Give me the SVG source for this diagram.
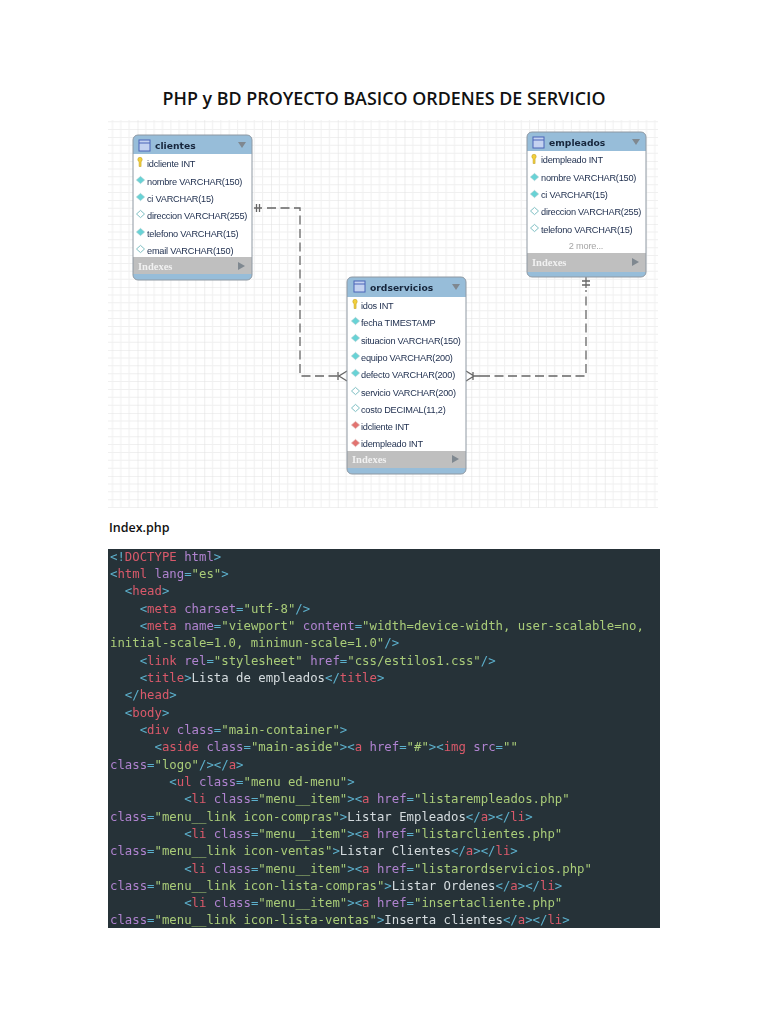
<svg xmlns="http://www.w3.org/2000/svg" width="768" height="1024" viewBox="0 0 768 1024">
<style>
.code{font-family:"DejaVu Sans Mono",monospace;font-size:12.32px;fill:#d5dcdf;white-space:pre}
.b{fill:#5cb0cc}.r{fill:#d9596a}.p{fill:#b083d0}.g{fill:#a9cc78}
.t{font-family:"Liberation Sans",sans-serif;font-size:9.2px;letter-spacing:-.22px;fill:#1c2c4c}
.h{font-family:"DejaVu Sans",sans-serif;font-size:9.2px;font-weight:bold;fill:#17263c}
.ix{font-family:"Liberation Serif",serif;font-size:10.5px;font-weight:bold;fill:#f1f1f1}
.body{fill:#fff}
.line{fill:none;stroke:#8e98a2;stroke-width:1}
.head{fill:#97bdd9}
.band{fill:#bfbfbf}
.arrow{fill:#7f8890}
.k{fill:#f2cf3c;stroke:#b8981c;stroke-width:.5}
.d{fill:#68d3d6;stroke:#8fc6c9;stroke-width:.7}
.o{fill:#fff;stroke:#7fc0c4;stroke-width:1}
.f{fill:#e2736f;stroke:#d9a3a0;stroke-width:.7}
.ti{fill:#c4d2f0;stroke:#4a64b8;stroke-width:1}
.c{fill:none;stroke:#666;stroke-width:1.3}
.dash{stroke-dasharray:9 4.5}
</style>
<defs>
<pattern id="gr" x="137.5" y="98" width="66.75" height="63" patternUnits="userSpaceOnUse">
<path d="M8.34 0V63M16.69 0V63M25.03 0V63M33.38 0V63M41.72 0V63M50.06 0V63M58.41 0V63M0 7.88H66.75M0 15.75H66.75M0 23.63H66.75M0 31.5H66.75M0 39.38H66.75M0 47.25H66.75M0 55.13H66.75" stroke="#f0f0f0" stroke-width="1" fill="none"/>
<path d="M0 0V63M0 0H66.75" stroke="#e3e3e3" stroke-width="1.2" fill="none"/>
</pattern>
<filter id="soft" x="-5%" y="-5%" width="110%" height="110%"><feGaussianBlur stdDeviation="0.35"/></filter>
<filter id="soft2" x="0" y="0" width="100%" height="100%"><feGaussianBlur stdDeviation="0.2"/></filter>
<path id="key" d="M-2.2-3.5a2.2 2.2 0 0 1 4.4 0c0 1.200-.6 1.800-1.100 2.300V3.500H-.9V-1.200C-1.600-1.700-2.200-2.300-2.200-3.500z"/>
<path id="dm" d="M0-3.600L4 0 0 3.600-4 0z"/>
<g id="tbl"><rect x="0" y="0" width="11" height="11" class="ti"/><path d="M0 3H11" stroke="#4a64b8"/></g>
</defs>

<rect width="768" height="1024" fill="#fff"/>
<text x="384" y="105" text-anchor="middle" textLength="443" lengthAdjust="spacingAndGlyphs" style="font-family:'Open Sans',sans-serif;font-size:17.500px;font-weight:600;fill:#111">PHP y BD PROYECTO BASICO ORDENES DE SERVICIO</text>

<rect x="108" y="120" width="550" height="388" fill="url(#gr)"/>

<g id="connectors" filter="url(#soft)">
<path class="c dash" d="M267 208H300V376H338"/>
<path class="c" d="M254 208H262M256.500 204V212M259.500 204V212M338 372V380M347 371L339 376L347 381"/>
<path class="c dash" d="M481 376H586V290"/>
<path class="c" d="M586 277V288M582 281H590M582 285H590M473 372V380M466 371L474 376L466 381M474 376H481"/>
</g>

<g id="clientes" filter="url(#soft)">
<rect class="head" x="133" y="135" width="119" height="145" rx="5"/>
<rect class="body" x="133" y="154" width="119" height="103"/>
<rect class="band" x="133" y="257" width="119" height="17"/>
<rect class="line" x="133" y="135" width="119" height="145" rx="5"/>
<use href="#tbl" x="139" y="140"/>
<text class="h" x="155" y="149">clientes</text>
<path class="arrow" d="M238 142H246L242 148z"/>
<use href="#key" class="k" x="140" y="163"/><text class="t" x="147" y="167">idcliente INT</text>
<use href="#dm" class="d" x="140.500" y="180"/><text class="t" x="147" y="185">nombre VARCHAR(150)</text>
<use href="#dm" class="d" x="140.500" y="197"/><text class="t" x="147" y="202">ci VARCHAR(15)</text>
<use href="#dm" class="o" x="140.500" y="214"/><text class="t" x="147" y="219">direccion VARCHAR(255)</text>
<use href="#dm" class="d" x="140.500" y="232"/><text class="t" x="147" y="237">telefono VARCHAR(15)</text>
<use href="#dm" class="o" x="140.500" y="249"/><text class="t" x="147" y="254">email VARCHAR(150)</text>
<text class="ix" x="138" y="270">Indexes</text>
<path class="arrow" d="M238 262L245 266L238 270z"/>
</g>

<g id="empleados" filter="url(#soft)">
<rect class="head" x="527" y="132" width="119" height="145" rx="5"/>
<rect class="body" x="527" y="151" width="119" height="102"/>
<rect class="band" x="527" y="253" width="119" height="19"/>
<rect class="line" x="527" y="132" width="119" height="145" rx="5"/>
<use href="#tbl" x="533" y="137"/>
<text class="h" x="549" y="146">empleados</text>
<path class="arrow" d="M632 139H640L636 145z"/>
<use href="#key" class="k" x="534" y="160"/><text class="t" x="541" y="163">idempleado INT</text>
<use href="#dm" class="d" x="534.500" y="177"/><text class="t" x="541" y="181">nombre VARCHAR(150)</text>
<use href="#dm" class="d" x="534.500" y="194"/><text class="t" x="541" y="198">ci VARCHAR(15)</text>
<use href="#dm" class="o" x="534.500" y="211"/><text class="t" x="541" y="215">direccion VARCHAR(255)</text>
<use href="#dm" class="o" x="534.500" y="228"/><text class="t" x="541" y="233">telefono VARCHAR(15)</text>
<text class="t" x="586" y="249" text-anchor="middle" style="fill:#a5a5a5">2 more...</text>
<text class="ix" x="532" y="266">Indexes</text>
<path class="arrow" d="M632 258L639 262L632 266z"/>
</g>

<g id="ordservicios" filter="url(#soft)">
<rect class="head" x="347" y="277" width="119" height="197" rx="5"/>
<rect class="body" x="347" y="297" width="119" height="154"/>
<rect class="band" x="347" y="451" width="119" height="17"/>
<rect class="line" x="347" y="277" width="119" height="197" rx="5"/>
<use href="#tbl" x="354" y="281"/>
<text class="h" x="370" y="291">ordservicios</text>
<path class="arrow" d="M452 284H460L456 290z"/>
<use href="#key" class="k" x="355" y="305"/><text class="t" x="361" y="309">idos INT</text>
<use href="#dm" class="d" x="355.500" y="321"/><text class="t" x="361" y="326">fecha TIMESTAMP</text>
<use href="#dm" class="d" x="355.500" y="338"/><text class="t" x="361" y="344">situacion VARCHAR(150)</text>
<use href="#dm" class="d" x="355.500" y="356"/><text class="t" x="361" y="361">equipo VARCHAR(200)</text>
<use href="#dm" class="d" x="355.500" y="373"/><text class="t" x="361" y="378">defecto VARCHAR(200)</text>
<use href="#dm" class="o" x="355.500" y="391"/><text class="t" x="361" y="396">servicio VARCHAR(200)</text>
<use href="#dm" class="o" x="355.500" y="408"/><text class="t" x="361" y="413">costo DECIMAL(11,2)</text>
<use href="#dm" class="f" x="355.500" y="425"/><text class="t" x="361" y="430">idcliente INT</text>
<use href="#dm" class="f" x="355.500" y="443"/><text class="t" x="361" y="447">idempleado INT</text>
<text class="ix" x="352" y="463">Indexes</text>
<path class="arrow" d="M452 455L459 459L452 463z"/>
</g>

<text x="109" y="532" style="font-family:'Open Sans',sans-serif;font-size:12.500px;font-weight:600;fill:#111">Index.php</text>

<rect x="108" y="549" width="552" height="379" fill="#263238"/>
<g class="code" filter="url(#soft2)">
<text class="code" x="110" y="561"><tspan class="b">&lt;!</tspan><tspan class="r">DOCTYPE</tspan> <tspan class="p">html</tspan><tspan class="b">&gt;</tspan></text>
<text class="code" x="110" y="578"><tspan class="b">&lt;</tspan><tspan class="r">html</tspan> <tspan class="p">lang</tspan><tspan class="b">=</tspan><tspan class="g">"es"</tspan><tspan class="b">&gt;</tspan></text>
<text class="code" x="110" y="595">  <tspan class="b">&lt;</tspan><tspan class="r">head</tspan><tspan class="b">&gt;</tspan></text>
<text class="code" x="110" y="613">    <tspan class="b">&lt;</tspan><tspan class="r">meta</tspan> <tspan class="p">charset</tspan><tspan class="b">=</tspan><tspan class="g">"utf-8"</tspan><tspan class="b">/&gt;</tspan></text>
<text class="code" x="110" y="630">    <tspan class="b">&lt;</tspan><tspan class="r">meta</tspan> <tspan class="p">name</tspan><tspan class="b">=</tspan><tspan class="g">"viewport"</tspan> <tspan class="p">content</tspan><tspan class="b">=</tspan><tspan class="g">"width=device-width, user-scalable=no,</tspan></text>
<text class="code" x="110" y="647"><tspan class="g">initial-scale=1.0, minimun-scale=1.0"</tspan><tspan class="b">/&gt;</tspan></text>
<text class="code" x="110" y="665">    <tspan class="b">&lt;</tspan><tspan class="r">link</tspan> <tspan class="p">rel</tspan><tspan class="b">=</tspan><tspan class="g">"stylesheet"</tspan> <tspan class="p">href</tspan><tspan class="b">=</tspan><tspan class="g">"css/estilos1.css"</tspan><tspan class="b">/&gt;</tspan></text>
<text class="code" x="110" y="682">    <tspan class="b">&lt;</tspan><tspan class="r">title</tspan><tspan class="b">&gt;</tspan>Lista de empleados<tspan class="b">&lt;/</tspan><tspan class="r">title</tspan><tspan class="b">&gt;</tspan></text>
<text class="code" x="110" y="699">  <tspan class="b">&lt;/</tspan><tspan class="r">head</tspan><tspan class="b">&gt;</tspan></text>
<text class="code" x="110" y="717">  <tspan class="b">&lt;</tspan><tspan class="r">body</tspan><tspan class="b">&gt;</tspan></text>
<text class="code" x="110" y="734">    <tspan class="b">&lt;</tspan><tspan class="r">div</tspan> <tspan class="p">class</tspan><tspan class="b">=</tspan><tspan class="g">"main-container"</tspan><tspan class="b">&gt;</tspan></text>
<text class="code" x="110" y="751">      <tspan class="b">&lt;</tspan><tspan class="r">aside</tspan> <tspan class="p">class</tspan><tspan class="b">=</tspan><tspan class="g">"main-aside"</tspan><tspan class="b">&gt;&lt;</tspan><tspan class="r">a</tspan> <tspan class="p">href</tspan><tspan class="b">=</tspan><tspan class="g">"#"</tspan><tspan class="b">&gt;&lt;</tspan><tspan class="r">img</tspan> <tspan class="p">src</tspan><tspan class="b">=</tspan><tspan class="g">""</tspan></text>
<text class="code" x="110" y="769"><tspan class="p">class</tspan><tspan class="b">=</tspan><tspan class="g">"logo"</tspan><tspan class="b">/&gt;&lt;/</tspan><tspan class="r">a</tspan><tspan class="b">&gt;</tspan></text>
<text class="code" x="110" y="786">        <tspan class="b">&lt;</tspan><tspan class="r">ul</tspan> <tspan class="p">class</tspan><tspan class="b">=</tspan><tspan class="g">"menu ed-menu"</tspan><tspan class="b">&gt;</tspan></text>
<text class="code" x="110" y="803">          <tspan class="b">&lt;</tspan><tspan class="r">li</tspan> <tspan class="p">class</tspan><tspan class="b">=</tspan><tspan class="g">"menu__item"</tspan><tspan class="b">&gt;&lt;</tspan><tspan class="r">a</tspan> <tspan class="p">href</tspan><tspan class="b">=</tspan><tspan class="g">"listarempleados.php"</tspan></text>
<text class="code" x="110" y="821"><tspan class="p">class</tspan><tspan class="b">=</tspan><tspan class="g">"menu__link icon-compras"</tspan><tspan class="b">&gt;</tspan>Listar Empleados<tspan class="b">&lt;/</tspan><tspan class="r">a</tspan><tspan class="b">&gt;&lt;/</tspan><tspan class="r">li</tspan><tspan class="b">&gt;</tspan></text>
<text class="code" x="110" y="838">          <tspan class="b">&lt;</tspan><tspan class="r">li</tspan> <tspan class="p">class</tspan><tspan class="b">=</tspan><tspan class="g">"menu__item"</tspan><tspan class="b">&gt;&lt;</tspan><tspan class="r">a</tspan> <tspan class="p">href</tspan><tspan class="b">=</tspan><tspan class="g">"listarclientes.php"</tspan></text>
<text class="code" x="110" y="855"><tspan class="p">class</tspan><tspan class="b">=</tspan><tspan class="g">"menu__link icon-ventas"</tspan><tspan class="b">&gt;</tspan>Listar Clientes<tspan class="b">&lt;/</tspan><tspan class="r">a</tspan><tspan class="b">&gt;&lt;/</tspan><tspan class="r">li</tspan><tspan class="b">&gt;</tspan></text>
<text class="code" x="110" y="873">          <tspan class="b">&lt;</tspan><tspan class="r">li</tspan> <tspan class="p">class</tspan><tspan class="b">=</tspan><tspan class="g">"menu__item"</tspan><tspan class="b">&gt;&lt;</tspan><tspan class="r">a</tspan> <tspan class="p">href</tspan><tspan class="b">=</tspan><tspan class="g">"listarordservicios.php"</tspan></text>
<text class="code" x="110" y="890"><tspan class="p">class</tspan><tspan class="b">=</tspan><tspan class="g">"menu__link icon-lista-compras"</tspan><tspan class="b">&gt;</tspan>Listar Ordenes<tspan class="b">&lt;/</tspan><tspan class="r">a</tspan><tspan class="b">&gt;&lt;/</tspan><tspan class="r">li</tspan><tspan class="b">&gt;</tspan></text>
<text class="code" x="110" y="907">          <tspan class="b">&lt;</tspan><tspan class="r">li</tspan> <tspan class="p">class</tspan><tspan class="b">=</tspan><tspan class="g">"menu__item"</tspan><tspan class="b">&gt;&lt;</tspan><tspan class="r">a</tspan> <tspan class="p">href</tspan><tspan class="b">=</tspan><tspan class="g">"insertacliente.php"</tspan></text>
<text class="code" x="110" y="924"><tspan class="p">class</tspan><tspan class="b">=</tspan><tspan class="g">"menu__link icon-lista-ventas"</tspan><tspan class="b">&gt;</tspan>Inserta clientes<tspan class="b">&lt;/</tspan><tspan class="r">a</tspan><tspan class="b">&gt;&lt;/</tspan><tspan class="r">li</tspan><tspan class="b">&gt;</tspan></text>
</g>
</svg>
